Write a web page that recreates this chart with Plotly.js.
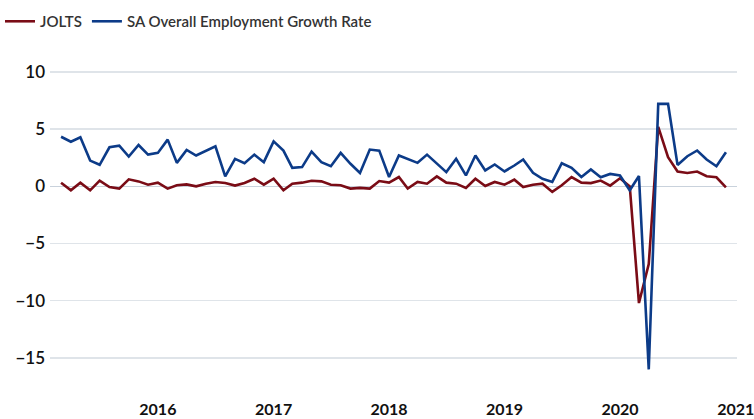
<!DOCTYPE html>
<html>
<head>
<meta charset="utf-8">
<script src="https://cdn.plot.ly/plotly-3.0.1.min.js"></script>
<style>html,body{margin:0;padding:0;background:#fff}#chart{width:754px;height:419px}</style>
</head>
<body>
<div id="chart"></div>
<script>
const startYear = 2015, startMonth = 3, nMonths = 70;
const seriesNames = ["JOLTS", "SA Overall Employment Growth Rate"];
const jolts = [0.32,-0.35,0.32,-0.35,0.49,-0.06,-0.2,0.61,0.43,0.14,
  0.32,-0.2,0.09,0.17,0,0.23,0.38,0.29,0.06,0.29,
  0.66,0.14,0.66,-0.35,0.23,0.32,0.49,0.43,0.14,0.09,
  -0.2,-0.14,-0.2,0.46,0.32,0.81,-0.2,0.38,0.23,0.87,
  0.32,0.23,-0.14,0.66,0.03,0.38,0.14,0.58,-0.06,0.14,
  0.23,-0.49,0.09,0.81,0.32,0.28,0.5,0.06,0.7,0.0,
  -10.2,-6.8,5.2,2.54,1.29,1.17,1.29,0.88,0.79,-0.09];
const saGrowth = [4.33,3.9,4.28,2.25,1.88,3.41,3.55,2.6,3.61,2.77,
  2.92,4.08,2.05,3.18,2.69,3.12,3.5,0.87,2.4,2.02,
  2.77,2.11,3.93,3.12,1.62,1.68,3.03,2.11,1.76,2.92,
  1.97,1.16,3.21,3.12,0.81,2.69,2.4,2.05,2.77,2.02,
  1.24,2.4,0.95,2.69,1.39,1.91,1.3,1.82,2.34,1.18,
  0.66,0.38,2.02,1.62,0.81,1.47,0.79,1.08,0.94,-0.35,
  0.9,-16.0,7.2,7.2,1.87,2.63,3.13,2.34,1.75,2.98];
const yTicks = [10,5,0,-5,-10,-15];
const yTickText = ["10","5","0","\u22125","\u221210","\u221215"];

const dates = [];
for (let i = 0; i < nMonths; i++) {
  const m0 = startMonth - 1 + i;
  const y = startYear + Math.floor(m0 / 12);
  const m = (m0 % 12) + 1;
  dates.push(y + "-" + String(m).padStart(2, "0") + "-01");
}

const traces = [
  {x: dates, y: jolts, name: seriesNames[0], type: "scatter", mode: "lines",
   line: {color: "#7a0c16", width: 2.6}},
  {x: dates, y: saGrowth, name: seriesNames[1], type: "scatter", mode: "lines",
   line: {color: "#0c3b88", width: 2.6}}
];

const layout = {
  width: 754, height: 419,
  margin: {l: 50, r: 17, t: 49, b: 21},
  paper_bgcolor: "#fff", plot_bgcolor: "#fff",
  showlegend: true,
  legend: {orientation: "h", x: 0.0, xref: "container", y: 0.988, yref: "container",
    xanchor: "left", yanchor: "top", itemwidth: 30,
    font: {family: "Lato, sans-serif", size: 15, color: "#333", weight: 600},
    traceorder: "normal"},
  xaxis: {type: "date", range: ["2015-01-25", "2021-01-05"],
    tickformat: "%Y", dtick: "M12", tick0: "2016-01-01",
    showgrid: false, zeroline: false, showline: false, ticks: "",
    ticklabeloverflow: "allow",
    tickfont: {family: "Lato, sans-serif", size: 16, color: "#111", weight: 700}},
  yaxis: {range: [-18.5, 12], tickvals: yTicks, ticktext: yTickText,
    showgrid: true, gridcolor: "#dfe4e9", gridwidth: 1.3,
    zeroline: true, zerolinecolor: "#c9d2dc", zerolinewidth: 1.5,
    showline: false, ticks: "", ticklabelstandoff: 4,
    tickfont: {family: "Lato, sans-serif", size: 17, color: "#111", weight: 600}}
};

Plotly.newPlot("chart", traces, layout, {displayModeBar: false, staticPlot: true});
</script>
</body>
</html>
